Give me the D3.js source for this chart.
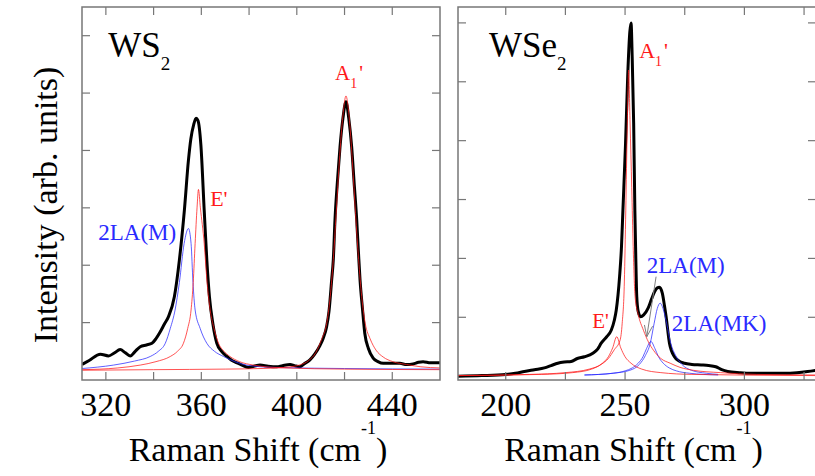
<!DOCTYPE html>
<html>
<head>
<meta charset="utf-8">
<script src="https://cdn.jsdelivr.net/npm/d3@7/dist/d3.min.js"></script>
<style>
  body { margin: 0; background: #fff; }
</style>
</head>
<body>
<div class="board"></div>
<script>

// ---- WS2 panel (left) : [Raman shift, intensity]
var ws2Spectrum = [[310,0.27],[313,0.34],[317.7,0.45],[321.1,0.42],[323.5,0.47],[326,0.53],[328,0.48],[330.2,0.42],
  [332.3,0.5],[334.4,0.58],[337,0.61],[339.3,0.64],[341,0.72],[342.8,0.84],[344.6,0.98],[346.2,1.1],[348.7,1.45],
  [350.8,2.09],[352.9,2.96],[354.6,3.83],[355.6,4.2],[356.8,4.45],[357.8,4.56],[358.6,4.52],[359.8,4.1],[361.2,2.96],
  [362.3,2.09],[363.4,1.45],[364.8,0.99],[366.5,0.64],[368.5,0.5],[370.7,0.41],[372.5,0.35],[374.9,0.3],[377,0.26],
  [379.7,0.22],[382,0.24],[384.6,0.26],[388,0.24],[391.6,0.23],[394,0.25],[397.2,0.27],[399,0.25],[401.3,0.23],
  [403,0.28],[405.5,0.35],[407.5,0.45],[409.7,0.6],[411,0.72],[412.5,0.93],[413.5,1.2],[414.6,1.74],[415.3,2.1],
  [416,2.79],[417,3.45],[418.1,4.06],[419.3,4.55],[420.6,4.85],[421.8,4.55],[423,4.06],[424,3.45],[425.1,2.79],
  [425.8,2.25],[426.5,1.74],[427.5,1.25],[428.5,0.81],[430,0.55],[432,0.38],[434,0.32],[436.2,0.29],[440,0.29],
  [443.2,0.29],[446,0.27],[448.7,0.28],[451,0.31],[452.9,0.32],[456,0.3],[460,0.3]];

var ws2FitLA = [[310,0.2],[323.2,0.26],[332,0.33],[338.6,0.41],[342,0.5],[344.9,0.64],[347,0.9],[349,1.22],
  [350.8,1.7],[352.8,2.38],[354.6,2.64],[355.7,2.38],[356.5,1.7],[357.4,1.22],[359.5,0.9],[362.3,0.64],[365.5,0.5],
  [369.3,0.41],[374,0.32],[379,0.26],[390,0.22],[420,0.2],[460,0.19]];

var ws2FitE = [[310,0.18],[325,0.21],[334.4,0.26],[341,0.32],[347,0.41],[350,0.5],[352.5,0.64],[354.3,0.9],
  [355.7,1.22],[356.6,1.7],[357.4,2.38],[358.2,3.0],[358.8,3.32],[359.6,3.0],[361.2,2.38],[362.4,1.7],[363.7,1.22],
  [365.3,0.9],[367.2,0.64],[369.5,0.5],[372,0.41],[376,0.32],[381.8,0.26],[395,0.21],[420,0.19],[460,0.18]];

var ws2FitA1 = [[310,0.17],[340,0.18],[370,0.19],[385,0.2],[395,0.22],[401,0.26],[405,0.34],[408,0.48],
  [410.5,0.72],[412.5,0.98],[414,1.45],[415.3,2.1],[416.5,2.9],[417.8,3.8],[419.3,4.6],[420.6,4.95],[421.9,4.6],
  [423.3,3.8],[424.6,2.9],[425.9,2.1],[427.2,1.45],[428.7,0.98],[430.7,0.72],[433.2,0.52],[436.2,0.4],[440.2,0.32],
  [446,0.27],[452,0.23],[460,0.21]];

// ---- WSe2 panel (right)
var wse2Spectrum = [[180,0.0],[190,0.01],[200,0.03],[204,0.05],[207.8,0.08],[212,0.11],[216.2,0.14],[219,0.18],
  [221.8,0.22],[224.5,0.24],[227.4,0.25],[230,0.3],[233,0.33],[236.5,0.39],[238.5,0.46],[240,0.56],[242.3,0.67],
  [244.2,0.78],[245.5,0.95],[246.3,1.12],[247.7,1.69],[248.5,2.2],[249.1,2.82],[250.2,3.95],[251.1,5.09],[252,5.85],
  [252.5,6.0],[253,5.4],[253.6,4.3],[254.1,2.82],[254.5,2.0],[254.9,1.35],[255.5,1.1],[256.5,1.01],[257.8,1.04],
  [259.6,1.15],[261,1.3],[262.3,1.43],[263.5,1.5],[264.4,1.51],[265.6,1.41],[266.5,1.2],[267.2,1.01],[268.6,0.56],
  [270.7,0.33],[272.5,0.26],[274.9,0.22],[278,0.2],[281.9,0.19],[285,0.18],[288,0.16],[290.5,0.11],[293,0.08],
  [298,0.06],[302.7,0.05],[310,0.05],[316.7,0.05],[322,0.06],[326.5,0.08],[330,0.1]];

var wse2FitA1 = [[180,0.01],[210,0.03],[225,0.06],[235,0.12],[240,0.2],[243,0.3],[245.5,0.45],[247.9,0.61],
  [248.8,0.9],[249.7,1.6],[250.3,2.82],[250.9,4.2],[251.5,5.2],[252.1,4.3],[252.8,3.2],[253.4,2.2],[254.2,1.35],
  [255.5,1.05],[257.7,0.78],[259.8,0.58],[261.9,0.44],[265,0.3],[268.9,0.22],[273,0.15],[278.6,0.1],[290,0.06],
  [305,0.03],[330,0.02]];

var wse2FitE = [[180,0.01],[215,0.03],[228,0.06],[236,0.12],[240.5,0.22],[243,0.33],[244.8,0.48],[246.5,0.67],
  [248.2,0.48],[250,0.33],[252.5,0.22],[257,0.12],[265,0.06],[278,0.03],[330,0.01]];

var wse2FitLAM = [[233,0.02],[245,0.05],[250,0.09],[253,0.14],[255.5,0.22],[257.5,0.33],[259,0.47],[260.8,0.59],
  [262.5,0.47],[264,0.33],[266,0.22],[268.5,0.14],[271.5,0.09],[277,0.05],[289,0.02]];

var wse2FitLAMK = [[233,0.02],[245,0.05],[252,0.1],[256,0.2],[258.5,0.35],[260.5,0.55],[262.2,0.9],[263.5,1.15],
  [264.7,1.24],[265.9,1.15],[267.4,0.9],[269.2,0.55],[271.2,0.35],[273.8,0.2],[277.8,0.1],[284,0.05],[289,0.03]];

// tick values
var ws2XTicks = [320, 340, 360, 380, 400, 420, 440];
var ws2XLabels = [320, 360, 400, 440];
var wse2XTicks = [200, 225, 250, 275, 300, 325];
var wse2XLabels = [200, 250, 300];
var yTicks = [1, 2, 3, 4, 5, 6];

var RED = '#ff1a1a', BLUE = '#2a2aff', FRAME = '#777';
var SERIF = 'Liberation Serif';

var svg = d3.select('.board').append('svg')
            .attr('width', 815)
            .attr('height', 476);

var addText = function(parent) {
  return parent.append('text').style('font-family', SERIF);
};

var drawPanel = function(p) {
  var x = d3.scaleLinear().domain(p.xDomain).range([p.left, p.right]);
  var y = d3.scaleLinear().domain(p.yDomain).range([p.bottom, p.top]);
  var g = svg.append('g');

  g.append('clipPath').attr('id', p.id)
   .append('rect')
   .attr('x', p.left).attr('y', p.top)
   .attr('width', p.right - p.left).attr('height', p.bottom - p.top);

  var line = d3.line()
               .x(function(d) { return x(d[0]); })
               .y(function(d) { return y(d[1]); })
               .curve(d3.curveMonotoneX);

  var plot = g.append('g').attr('clip-path', 'url(#' + p.id + ')');

  plot.append('path')
      .datum(p.spectrum)
      .attr('d', line)
      .attr('fill', 'none')
      .attr('stroke', '#000')
      .attr('stroke-width', 3)
      .attr('stroke-linejoin', 'round');

  plot.selectAll('.fit')
      .data(p.fits)
      .enter()
      .append('path')
      .attr('class', 'fit')
      .attr('d', function(f) { return line(f.data); })
      .attr('fill', 'none')
      .attr('stroke', function(f) { return f.color; })
      .attr('stroke-opacity', 0.75)
      .attr('stroke-width', 1);

  // inward ticks on all four sides
  var tl = 8;
  p.xTicks.forEach(function(t) {
    g.append('line').attr('x1', x(t)).attr('x2', x(t)).attr('y1', p.bottom).attr('y2', p.bottom - tl)
     .attr('stroke', FRAME).attr('stroke-width', 1.2);
    g.append('line').attr('x1', x(t)).attr('x2', x(t)).attr('y1', p.top).attr('y2', p.top + tl)
     .attr('stroke', FRAME).attr('stroke-width', 1.2);
  });
  yTicks.forEach(function(t) {
    g.append('line').attr('x1', p.left).attr('x2', p.left + tl).attr('y1', y(t)).attr('y2', y(t))
     .attr('stroke', FRAME).attr('stroke-width', 1.2);
    g.append('line').attr('x1', p.right).attr('x2', p.right - tl).attr('y1', y(t)).attr('y2', y(t))
     .attr('stroke', FRAME).attr('stroke-width', 1.2);
  });

  g.append('rect')
   .attr('x', p.left).attr('y', p.top)
   .attr('width', p.right - p.left).attr('height', p.bottom - p.top)
   .attr('fill', 'none')
   .attr('stroke', FRAME)
   .attr('stroke-width', 1.5);

  p.xLabels.forEach(function(d) {
    addText(g)
      .attr('x', x(d))
      .attr('y', 416)
      .attr('text-anchor', 'middle')
      .attr('font-size', 34)
      .text(d);
  });

  var title = addText(g)
               .attr('x', (p.left + Math.min(p.right, 815)) / 2 - 3)
               .attr('y', 461)
               .attr('text-anchor', 'middle')
               .attr('font-size', 34);
  title.append('tspan').text('Raman Shift (cm');
  title.append('tspan').attr('font-size', 18).attr('dy', -27).text('-1');
  title.append('tspan').attr('dy', 27).text(')');

  // sample name
  var name = addText(g)
              .attr('x', x(p.name.x)).attr('y', y(p.name.y))
              .attr('font-size', 35);
  name.append('tspan').text(p.name.text);
  name.append('tspan').attr('font-size', 19).attr('dy', 13).text('2');

  // peak labels
  p.labels.forEach(function(l) {
    var t = addText(g)
             .attr('x', x(l.x)).attr('y', y(l.y))
             .attr('fill', l.color)
             .attr('font-size', l.size);
    if (l.sub) {
      t.append('tspan').text(l.text);
      t.append('tspan').attr('font-size', 14).attr('dy', 8).text(l.sub);
      t.append('tspan').attr('dy', -8).attr('dx', 2).text("'");
    } else {
      t.text(l.text);
    }
  });

  if (p.arrow) {
    var a = p.arrow;
    var x1 = x(a.from[0]), y1 = y(a.from[1]), x2 = x(a.to[0]), y2 = y(a.to[1]);
    var ang = Math.atan2(y2 - y1, x2 - x1);
    g.append('line').attr('x1', x1).attr('y1', y1).attr('x2', x2).attr('y2', y2)
     .attr('stroke', '#808080').attr('stroke-width', 1);
    [-0.35, 0.35].forEach(function(da) {
      g.append('line')
       .attr('x1', x2).attr('y1', y2)
       .attr('x2', x2 - 12 * Math.cos(ang + da))
       .attr('y2', y2 - 12 * Math.sin(ang + da))
       .attr('stroke', '#808080').attr('stroke-width', 1);
    });
  }
};

drawPanel({
  id: 'clipWS2',
  left: 82, right: 440, top: 7, bottom: 380,
  xDomain: [310, 460], yDomain: [0, 6.5],
  xTicks: ws2XTicks, xLabels: ws2XLabels,
  spectrum: ws2Spectrum,
  fits: [{data: ws2FitLA, color: BLUE}, {data: ws2FitE, color: RED}, {data: ws2FitA1, color: RED}],
  name: {text: 'WS', x: 321, y: 5.63},
  labels: [
    {text: '2LA(M)', x: 316.8, y: 2.44, color: BLUE, size: 23},
    {text: "E'", x: 363.7, y: 3.03, color: RED, size: 22},
    {text: 'A', sub: '1', x: 416, y: 5.23, color: RED, size: 21}
  ]
});

drawPanel({
  id: 'clipWSe2',
  left: 458, right: 816, top: 7, bottom: 380,
  xDomain: [180, 330], yDomain: [-0.065, 6.27],
  xTicks: wse2XTicks, xLabels: wse2XLabels,
  spectrum: wse2Spectrum,
  fits: [{data: wse2FitLAM, color: BLUE}, {data: wse2FitLAMK, color: BLUE},
         {data: wse2FitE, color: RED}, {data: wse2FitA1, color: RED}],
  name: {text: 'WSe', x: 193, y: 5.42},
  labels: [
    {text: 'A', sub: '1', x: 255.9, y: 5.4, color: RED, size: 22},
    {text: "E'", x: 236.2, y: 0.82, color: RED, size: 21},
    {text: '2LA(M)', x: 259.1, y: 1.75, color: BLUE, size: 23},
    {text: '2LA(MK)', x: 269.6, y: 0.77, color: BLUE, size: 23}
  ],
  arrow: {from: [263, 1.69], to: [259.1, 0.67]}
});

// shared y-axis title
addText(svg)
   .attr('transform', 'translate(57,205) rotate(-90)')
   .attr('text-anchor', 'middle')
   .attr('font-size', 34)
   .text('Intensity (arb. units)');

</script>
</body>
</html>
